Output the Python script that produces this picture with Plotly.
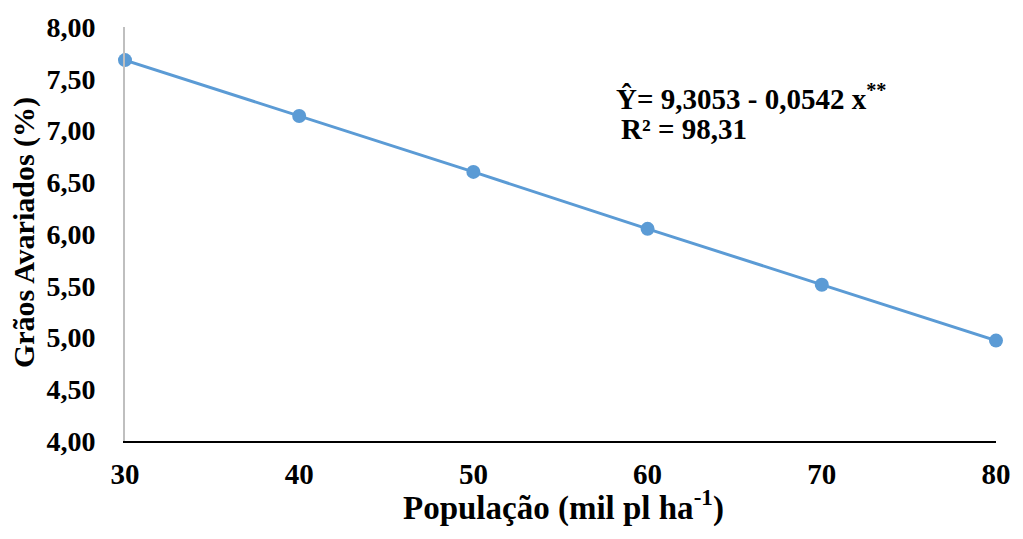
import plotly.graph_objects as go

# Stand density (thousand plants per hectare) and damaged grain percentage
populacao = [30, 40, 50, 60, 70, 80]
graos_avariados = [7.68, 7.14, 6.60, 6.05, 5.51, 4.97]

y_ticks = [4.0, 4.5, 5.0, 5.5, 6.0, 6.5, 7.0, 7.5, 8.0]
x_ticks = [30, 40, 50, 60, 70, 80]

equacao = "Ŷ= 9,3053 - 0,0542 x<sup>**</sup>"
r2 = "R² = 98,31"
titulo_x = "População (mil pl ha<sup>-1</sup>)"
titulo_y = "Grãos Avariados (%)"

azul = "#5B9BD5"
fonte = "Liberation Serif"

fig = go.Figure()
fig.add_trace(go.Scatter(
    x=populacao,
    y=graos_avariados,
    mode="lines+markers",
    line=dict(color=azul, width=3),
    marker=dict(color=azul, size=14),
    cliponaxis=False,
    showlegend=False,
))

fig.update_layout(
    width=1023,
    height=539,
    margin=dict(l=125, r=18, t=27, b=98),
    paper_bgcolor="white",
    plot_bgcolor="white",
    separators=",.",
    font=dict(family=fonte, size=28, color="black", weight="bold"),
    xaxis=dict(
        range=[30, 80],
        tickvals=x_ticks,
        showgrid=False,
        zeroline=False,
        showline=True,
        linecolor="black",
        linewidth=2,
        ticks="",
        ticklabelstandoff=6,
        tickfont=dict(family=fonte, size=29, weight="bold"),
    ),
    yaxis=dict(
        range=[4, 8],
        tickvals=y_ticks,
        tickformat=".2f",
        showgrid=False,
        zeroline=False,
        showline=True,
        linecolor="#BFBFBF",
        linewidth=2,
        ticks="",
        ticklabelstandoff=22,
        tickfont=dict(family=fonte, size=28, weight="bold"),
    ),
)

# text labels, positioned in pixels relative to the plot area
plot_w = 1023 - 125 - 18
plot_h = 539 - 27 - 98


def para_paper(px, py):
    return (px - 125) / plot_w, 1 - (py - 27) / plot_h


rotulos = [
    (equacao, 619, 97, 29, 0, "left"),
    (r2, 624, 129, 29, 0, "left"),
    (titulo_x, 568, 505, 33, 0, "center"),
    (titulo_y, 23, 233, 30, -90, "center"),
]
for texto, px, py, tamanho, angulo, ancora in rotulos:
    ax, ay = para_paper(px, py)
    fig.add_annotation(
        text=texto,
        x=ax, y=ay,
        xref="paper", yref="paper",
        showarrow=False, xanchor=ancora, yanchor="middle",
        textangle=angulo,
        font=dict(family=fonte, size=tamanho, weight="bold"),
    )

fig.write_html("out.html")
